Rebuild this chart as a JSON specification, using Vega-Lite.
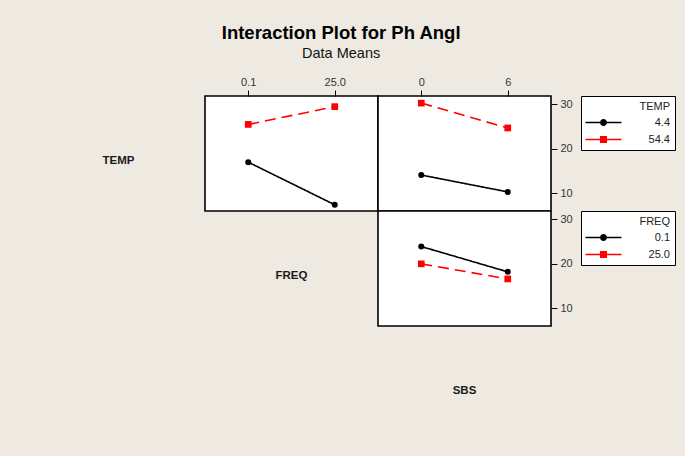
{
  "$schema": "https://vega.github.io/schema/vega-lite/v6.json",
  "background": "#EEEAE1",
  "padding": {"left": 32, "top": 24, "right": 17, "bottom": 18},
  "title": {
    "text": "Interaction Plot for Ph Angl",
    "subtitle": "Data Means",
    "anchor": "middle",
    "frame": "bounds",
    "dx": -13,
    "font": "Liberation Sans",
    "fontSize": 18.5,
    "fontWeight": "bold",
    "color": "black",
    "subtitleFont": "Liberation Sans",
    "subtitleFontSize": 14.5,
    "subtitleColor": "#111",
    "subtitlePadding": 4,
    "offset": 15
  },
  "datasets": {
    "temp_freq": [
      {"TEMP": "4.4", "FREQ": "0.1", "mean": 17.0},
      {"TEMP": "4.4", "FREQ": "25.0", "mean": 7.4},
      {"TEMP": "54.4", "FREQ": "0.1", "mean": 25.5},
      {"TEMP": "54.4", "FREQ": "25.0", "mean": 29.5}
    ],
    "temp_sbs": [
      {"TEMP": "4.4", "SBS": "0", "mean": 14.1},
      {"TEMP": "4.4", "SBS": "6", "mean": 10.3},
      {"TEMP": "54.4", "SBS": "0", "mean": 30.3},
      {"TEMP": "54.4", "SBS": "6", "mean": 24.7}
    ],
    "freq_sbs": [
      {"FREQ": "0.1", "SBS": "0", "mean": 23.9},
      {"FREQ": "0.1", "SBS": "6", "mean": 18.2},
      {"FREQ": "25.0", "SBS": "0", "mean": 20.0},
      {"FREQ": "25.0", "SBS": "6", "mean": 16.6}
    ]
  },
  "columns": 3,
  "spacing": 0,
  "bounds": "flush",
  "concat": [
    {
      "width": 173, "height": 115,
      "data": {"values": [{"name": "TEMP"}]},
      "mark": {"type": "text", "fontWeight": "bold", "fontSize": 11.5, "dy": 7, "color": "#1a1a1a"},
      "encoding": {"text": {"field": "name"}},
      "view": {"stroke": null, "fill": "transparent"}
    },
    {
      "width": 173, "height": 115,
      "data": {"name": "temp_freq"},
      "encoding": {
        "x": {"field": "FREQ", "type": "ordinal", "axis": {"orient": "top", "title": null, "labelAngle": 0, "labelPadding": 3}},
        "y": {"field": "mean", "type": "quantitative", "scale": {"domain": [6.0, 31.9], "nice": false, "zero": false}, "axis": null},
        "color": {"field": "TEMP", "type": "nominal", "scale": {"domain": ["4.4", "54.4"], "range": ["black", "#ff0000"]}, "legend": null}
      },
      "layer": [
        {
          "mark": {"type": "line", "strokeWidth": 1.6},
          "encoding": {"strokeDash": {"field": "TEMP", "type": "nominal", "scale": {"domain": ["4.4", "54.4"], "range": [[1, 0], [11, 6]]}, "legend": null}}
        },
        {
          "transform": [{"filter": "datum.TEMP == '4.4'"}],
          "mark": {"type": "point", "shape": "circle", "filled": true, "opacity": 1, "size": 36}
        },
        {
          "transform": [{"filter": "datum.TEMP == '54.4'"}],
          "mark": {"type": "point", "shape": "square", "filled": true, "opacity": 1, "size": 45}
        }
      ]
    },
    {
      "width": 173, "height": 115,
      "data": {"name": "temp_sbs"},
      "encoding": {
        "x": {"field": "SBS", "type": "ordinal", "axis": {"orient": "top", "title": null, "labelAngle": 0, "labelPadding": 3}},
        "y": {"field": "mean", "type": "quantitative", "scale": {"domain": [6.0, 31.9], "nice": false, "zero": false}, "axis": {"orient": "right", "title": null, "values": [10, 20, 30], "labelPadding": 3}},
        "color": {
          "field": "TEMP", "type": "nominal",
          "scale": {"domain": ["4.4", "54.4"], "range": ["black", "#ff0000"]},
          "legend": {"title": "TEMP", "orient": "right", "offset": 8, "labelAlign": "right", "labelOffset": 61, "symbolOpacity": 1}
        }
      },
      "layer": [
        {
          "mark": {"type": "line", "strokeWidth": 1.6},
          "encoding": {"strokeDash": {"field": "TEMP", "type": "nominal", "scale": {"domain": ["4.4", "54.4"], "range": [[1, 0], [11, 6]]}, "legend": null}}
        },
        {
          "transform": [{"filter": "datum.TEMP == '4.4'"}],
          "mark": {"type": "point", "shape": "circle", "filled": true, "opacity": 1, "size": 36}
        },
        {
          "transform": [{"filter": "datum.TEMP == '54.4'"}],
          "mark": {"type": "point", "shape": "square", "filled": true, "opacity": 1, "size": 45}
        },
        {
          "transform": [{"filter": "false"}],
          "mark": {"type": "point", "filled": true, "opacity": 1},
          "encoding": {
            "shape": {
              "field": "TEMP", "type": "nominal",
              "scale": {"domain": ["4.4", "54.4"], "range": ["M-3.6,-0.15H3.6V0.15H-3.6ZM0.7,0A0.7,0.7,0,1,1,-0.7,0A0.7,0.7,0,1,1,0.7,0Z", "M-3.6,-0.15H3.6V0.15H-3.6ZM-0.7,-0.7H0.7V0.7H-0.7Z"]},
              "legend": {"title": "TEMP", "orient": "right", "offset": 8, "labelAlign": "right", "labelOffset": 61, "symbolOpacity": 1}
            }
          }
        }
      ]
    },
    {
      "width": 173, "height": 115,
      "data": {"values": [{"name": ""}]},
      "mark": {"type": "text"},
      "encoding": {"text": {"field": "name"}},
      "view": {"stroke": null, "fill": "transparent"}
    },
    {
      "width": 173, "height": 115,
      "data": {"values": [{"name": "FREQ"}]},
      "mark": {"type": "text", "fontWeight": "bold", "fontSize": 11.5, "dy": 7, "color": "#1a1a1a"},
      "encoding": {"text": {"field": "name"}},
      "view": {"stroke": null, "fill": "transparent"}
    },
    {
      "width": 173, "height": 115,
      "data": {"name": "freq_sbs"},
      "encoding": {
        "x": {"field": "SBS", "type": "ordinal", "axis": null},
        "y": {"field": "mean", "type": "quantitative", "scale": {"domain": [6.0, 31.9], "nice": false, "zero": false}, "axis": {"orient": "right", "title": null, "values": [10, 20, 30], "labelPadding": 3}},
        "color": {
          "field": "FREQ", "type": "nominal",
          "scale": {"domain": ["0.1", "25.0"], "range": ["black", "#ff0000"]},
          "legend": {"title": "FREQ", "orient": "right", "offset": 8, "labelAlign": "right", "labelOffset": 61, "symbolOpacity": 1}
        }
      },
      "layer": [
        {
          "mark": {"type": "line", "strokeWidth": 1.6},
          "encoding": {"strokeDash": {"field": "FREQ", "type": "nominal", "scale": {"domain": ["0.1", "25.0"], "range": [[1, 0], [11, 6]]}, "legend": null}}
        },
        {
          "transform": [{"filter": "datum.FREQ == '0.1'"}],
          "mark": {"type": "point", "shape": "circle", "filled": true, "opacity": 1, "size": 36}
        },
        {
          "transform": [{"filter": "datum.FREQ == '25.0'"}],
          "mark": {"type": "point", "shape": "square", "filled": true, "opacity": 1, "size": 45}
        },
        {
          "transform": [{"filter": "false"}],
          "mark": {"type": "point", "filled": true, "opacity": 1},
          "encoding": {
            "shape": {
              "field": "FREQ", "type": "nominal",
              "scale": {"domain": ["0.1", "25.0"], "range": ["M-3.6,-0.15H3.6V0.15H-3.6ZM0.7,0A0.7,0.7,0,1,1,-0.7,0A0.7,0.7,0,1,1,0.7,0Z", "M-3.6,-0.15H3.6V0.15H-3.6ZM-0.7,-0.7H0.7V0.7H-0.7Z"]},
              "legend": {"title": "FREQ", "orient": "right", "offset": 8, "labelAlign": "right", "labelOffset": 61, "symbolOpacity": 1}
            }
          }
        }
      ]
    },
    {
      "width": 173, "height": 115,
      "data": {"values": [{"name": ""}]},
      "mark": {"type": "text"},
      "encoding": {"text": {"field": "name"}},
      "view": {"stroke": null, "fill": "transparent"}
    },
    {
      "width": 173, "height": 115,
      "data": {"values": [{"name": ""}]},
      "mark": {"type": "text"},
      "encoding": {"text": {"field": "name"}},
      "view": {"stroke": null, "fill": "transparent"}
    },
    {
      "width": 173, "height": 115,
      "data": {"values": [{"name": "SBS"}]},
      "mark": {"type": "text", "fontWeight": "bold", "fontSize": 11.5, "dy": 7, "color": "#1a1a1a"},
      "encoding": {"text": {"field": "name"}},
      "view": {"stroke": null, "fill": "transparent"}
    }
  ],
  "resolve": {
    "scale": {"color": "independent", "shape": "independent", "strokeDash": "independent"}
  },
  "config": {
    "font": "Liberation Sans",
    "view": {"stroke": "black", "strokeWidth": 1.6, "fill": "white"},
    "axis": {
      "labelFont": "Liberation Sans",
      "labelFontSize": 11,
      "labelColor": "#333",
      "tickColor": "black",
      "tickSize": 6,
      "domain": false,
      "grid": false
    },
    "legend": {
      "padding": 5,
      "fillColor": "white",
      "strokeColor": "black",
      "titleAnchor": "end",
      "titleFont": "Liberation Sans",
      "titleFontSize": 11,
      "titleFontWeight": "normal",
      "titleColor": "#222",
      "titlePadding": 5,
      "labelFont": "Liberation Sans",
      "labelFontSize": 11,
      "labelColor": "#222",
      "rowPadding": 5,
      "symbolSize": 100,
      "symbolOffset": 12,
      "symbolStrokeWidth": 0
    }
  }
}
